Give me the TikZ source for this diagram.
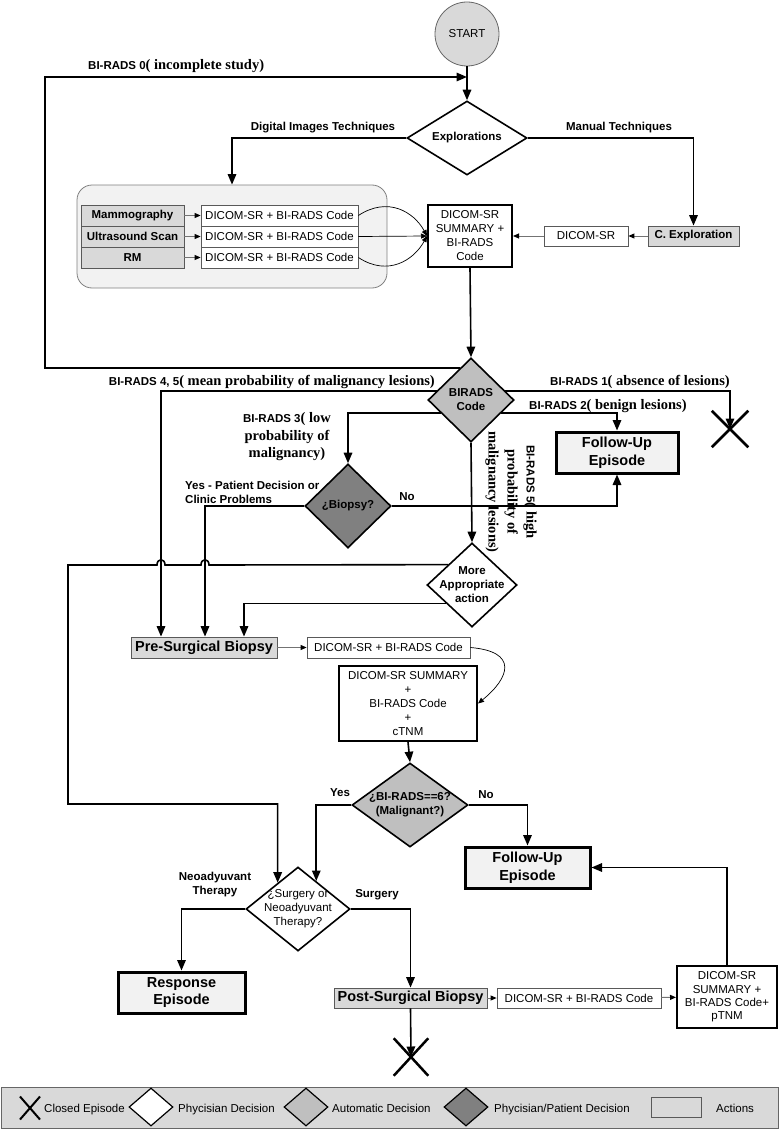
\documentclass[tikz,border=0pt]{standalone}
\usepackage{fontspec}
\setmainfont{Liberation Sans}
\newfontfamily\tms{Liberation Serif}
\newfontfamily\ars{Liberation Sans}
\usetikzlibrary{arrows.meta,shapes.geometric,shapes.misc,calc}
\definecolor{lgrey}{HTML}{D9D9D9}
\definecolor{mgrey}{HTML}{BFBFBF}
\definecolor{dgrey}{HTML}{808080}
\definecolor{vlgrey}{HTML}{F2F2F2}
\newcommand\fs{\fontsize{11.5}{14}\selectfont}
\newcommand\fbig{\fontsize{14.5}{17.5}\selectfont\bfseries}
\newcommand\tmfont{\tms\bfseries\fontsize{14.5}{17.5}\selectfont}
\newcommand\tmrot{\tms\bfseries\fontsize{14.5}{19}\selectfont}
\newcommand\sbf[1]{{\ars\bfseries\fontsize{11.5}{14}\selectfont #1}}
\begin{document}
\begin{tikzpicture}[x=1pt,y=-1pt,font=\fs,
  conn/.style={line width=1.6pt,-{Triangle[length=10.5pt,width=8.5pt]}},
  tarr/.style={line width=0.9pt,draw=black!55,-{Triangle[length=6pt,width=5pt,color=black]}},
  carr/.style={line width=0.7pt,-{Triangle[length=6pt,width=5pt]}},
  act/.style={rectangle,draw=black!65,line width=0.8pt,fill=lgrey,inner sep=0pt},
  wact/.style={act,fill=white},
  summ/.style={rectangle,draw,line width=2pt,fill=white,inner sep=0pt,align=center},
  epi/.style={rectangle,draw,line width=3pt,fill=vlgrey,inner sep=0pt,align=center,font=\fbig},
  dia/.style={diamond,draw,line width=1.6pt,inner sep=0pt,fill=white},
  lbl/.style={font=\fs\bfseries,align=center,inner sep=0pt},
  tx/.style={inner sep=0pt},
  xx/.style={cross out,draw,line width=2.5pt,inner sep=0pt},
]
\useasboundingbox (0,0) rectangle (779,1129);

% ---------- top ----------
\node[circle,draw=black!60,line width=0.8pt,fill=lgrey,minimum size=64pt,inner sep=0pt] (start) at (467,34) {START};
\node[dia,minimum width=120pt,minimum height=74pt] (expl) at (467,138) {};
\node[lbl] (explT) at (expl) {Explorations};

\node[rectangle,rounded corners=15pt,draw=black!50,line width=0.8pt,fill=vlgrey,minimum width=310pt,minimum height=103pt] (grp) at (232,236.5) {};
\node[act,minimum width=103pt,minimum height=21pt,font=\fs\bfseries] (mam) at (132.5,215.5) {Mammography};
\node[act,minimum width=103pt,minimum height=21pt,font=\fs\bfseries] (us) at (132.5,236.5) {Ultrasound Scan};
\node[act,minimum width=103pt,minimum height=21pt,font=\fs\bfseries] (rm) at (132.5,257.5) {RM};
\node[wact,minimum width=157pt,minimum height=21pt] (dA) at (279.5,215.5) {DICOM-SR + BI-RADS Code};
\node[wact,minimum width=157pt,minimum height=21pt] (dB) at (279.5,236.5) {DICOM-SR + BI-RADS Code};
\node[wact,minimum width=157pt,minimum height=21pt] (dC) at (279.5,257.5) {DICOM-SR + BI-RADS Code};
\node[summ,minimum width=84pt,minimum height=62pt] (sum1) at (470,236) {DICOM-SR\\SUMMARY +\\BI-RADS\\Code};
\node[wact,minimum width=84pt,minimum height=20pt] (dsr) at (586,236) {DICOM-SR};
\node[act,minimum width=91pt,minimum height=20pt,font=\fs\bfseries] (cexp) at (693.5,236) {C. Exploration};

\draw[conn] (start) -- (expl);
\draw[conn] (expl.west) -| (grp.north);
\draw[conn] (expl.east) -| (cexp.north);
\draw[tarr] (mam) -- (dA);
\draw[tarr] (us) -- (dB);
\draw[tarr] (rm) -- (dC);
\draw[carr] (dA.east) .. controls (388,196) and (414,212) .. (sum1.west);
\draw[carr] (dB.east) -- (sum1.west);
\draw[carr] (dC.east) .. controls (388,277) and (414,260) .. (sum1.west);
\draw[tarr] (cexp) -- (dsr);
\draw[tarr] (dsr) -- (sum1);

% ---------- BIRADS ----------
\node[dia,fill=mgrey,minimum width=86pt,minimum height=84pt] (birads) at (471,400) {};
\node[lbl] (biradsT) at (birads) {BIRADS\\Code};
\draw[conn] (sum1.south) -- (birads.north);

\coordinate (b0s) at ($(birads.north)!0.25!(birads.west)$);
\coordinate (y77) at (0,77);
\draw[conn] (b0s) -| (45,77) -- (start.south |- y77);
\node[tx,anchor=west] (l0) at (88,66) {\sbf{BI-RADS 0}{\tmfont( incomplete study)}};
\node[lbl] (ldig) at (323,128) {Digital Images Techniques};
\node[lbl] (lman) at (619,128) {Manual Techniques};

\node[epi,minimum width=122pt,minimum height=41pt] (fu1) at (617,452.5) {Follow-Up\\Episode};
\node[xx,minimum width=34pt,minimum height=34pt] (x1) at (730,429) {};
\node[dia,fill=dgrey,minimum width=86pt,minimum height=84pt] (biopsy) at (348,506) {};
\node[lbl] (biopsyT) at (biopsy) {¿Biopsy?};
\node[dia,minimum width=90pt,minimum height=84pt] (mapp) at (472,585) {};
\node[lbl] (mappT) at (mapp) {More\\Appropriate\\action};
\node[act,minimum width=146pt,minimum height=21pt,font=\fbig] (ps) at (204,647.5) {Pre-Surgical Biopsy};

\coordinate (b45s) at ($(birads.north)!0.786!(birads.west)$);
\coordinate (b1s) at ($(birads.north)!0.786!(birads.east)$);
\coordinate (b2s) at ($(birads.east)!0.31!(birads.south)$);
\coordinate (b3s) at ($(birads.west)!0.31!(birads.south)$);
\draw[conn] (b45s) -| ([xshift=-43pt]ps.north);
\draw[conn] (b1s) -| (x1.center);
\draw[conn] (b2s) -| (fu1.north);
\draw[conn] (b3s) -| (biopsy.north);
\draw[conn] (biopsy.west) -| ([xshift=1pt]ps.north);
\draw[conn] (biopsy.east) -| (fu1.south);
\draw[conn] (birads.south) -- (mapp.north);

\node[tx,anchor=east] (l45) at (435,382) {\sbf{BI-RADS 4, 5}{\tmfont( mean probability of malignancy lesions)}};
\node[tx,anchor=west] (l1) at (550,382) {\sbf{BI-RADS 1}{\tmfont( absence of lesions)}};
\node[tx,anchor=west] (l2) at (529,406) {\sbf{BI-RADS 2}{\tmfont( benign lesions)}};
\node[tx,align=center,font=\tmfont] (l3) at (287,437) {\sbf{BI-RADS 3}( low\\probability of\\malignancy)};
\node[tx,align=left,font=\fs\bfseries,anchor=west] (lyes1) at (185,492) {Yes - Patient Decision or\\Clinic Problems};
\node[lbl] (lno1) at (407,497) {No};
\node[tx,align=center,font=\tmrot,rotate=-90] (l5) at (511,492) {\sbf{BI-RADS 5}( high\\probability of\\malignancy lesions)};

% ---------- middle ----------
\node[wact,minimum width=163pt,minimum height=21pt] (d2) at (388.5,647.5) {DICOM-SR + BI-RADS Code};
\node[summ,minimum width=138pt,minimum height=75pt] (sum2) at (408,703.5) {DICOM-SR SUMMARY\\+\\BI-RADS Code\\+\\cTNM};
\node[dia,fill=mgrey,minimum width=116pt,minimum height=84pt] (mal) at (410,805) {};
\node[lbl] (malT) at (mal) {¿BI-RADS==6?\\(Malignant?)};
\node[epi,minimum width=125pt,minimum height=41pt] (fu2) at (527.5,867.5) {Follow-Up\\Episode};
\node[dia,minimum width=104pt,minimum height=84pt] (surg) at (298,909) {};
\node[tx,align=center] (surgT) at (surg) {¿Surgery or\\Neoadyuvant\\Therapy?};

\coordinate (ma1) at ($(mapp.north)!0.524!(mapp.west)$);
\coordinate (ma2) at ($(mapp.west)!0.43!(mapp.south)$);
\coordinate (sl) at ($(surg.north)!0.385!(surg.west)$);
\coordinate (sr) at ($(surg.north)!0.346!(surg.east)$);
\draw[conn] (ma1) -- (209,565) .. controls (209,558) and (201,558) .. (201,565) -- (165,565) .. controls (165,558) and (157,558) .. (157,565) -- (68,565) -- (68,804) -| (sl);
\draw[conn] (ma2) -| ([xshift=40pt]ps.north);
\draw[tarr] (ps) -- (d2);
\draw[carr] (d2.east) .. controls +(48,4) and +(32,-26) .. (sum2.east);
\draw[conn] (sum2.south) -- (mal.north);
\draw[conn] (mal.west) -| (sr);
\draw[conn] (mal.east) -| (fu2.north);
\node[lbl] (lyes2) at (340,793) {Yes};
\node[lbl] (lno2) at (486,795) {No};
\node[lbl] (lneo) at (215,885) {Neoadyuvant\\Therapy};
\node[lbl] (lsurg) at (377,895) {Surgery};

% ---------- bottom ----------
\node[epi,minimum width=127pt,minimum height=41pt] (resp) at (181.5,992.5) {Response\\Episode};
\node[act,minimum width=153pt,minimum height=20pt,font=\fbig] (post) at (410.5,998) {Post-Surgical Biopsy};
\node[wact,minimum width=164pt,minimum height=20pt] (d3) at (579,998) {DICOM-SR + BI-RADS Code};
\node[summ,minimum width=100pt,minimum height=62pt,font=\fontsize{11.5}{13.3}\selectfont] (sum3) at (727,997) {DICOM-SR\\SUMMARY +\\BI-RADS Code+\\pTNM};
\node[xx,minimum width=32pt,minimum height=35pt] (x2) at (411,1057) {};
\draw[conn] (surg.west) -| (resp.north);
\draw[conn] (surg.east) -| (post.north);
\draw[tarr] (post) -- (d3);
\draw[tarr] (d3) -- (sum3);
\draw[conn] (sum3.north) |- (fu2.east);
\draw[conn] (post.south) -- (x2.center);

% ---------- legend ----------
\node[rectangle,draw=black!60,line width=0.8pt,fill=lgrey,minimum width=777pt,minimum height=41pt,inner sep=0pt] (leg) at (389.5,1107.5) {};
\node[xx,line width=2pt,minimum width=18pt,minimum height=21pt] (lgx) at (30,1108) {};
\node[tx,anchor=base west] (lgxT) at (44,1112) {Closed Episode};
\node[diamond,draw,line width=1.2pt,fill=white,inner sep=0pt,minimum width=44pt,minimum height=38pt] (lgd1) at (151,1107) {};
\node[tx,anchor=base west] (lgd1T) at (178,1112) {Phycisian Decision};
\node[diamond,draw,line width=1.2pt,fill=mgrey,inner sep=0pt,minimum width=44pt,minimum height=38pt] (lgd2) at (306,1107) {};
\node[tx,anchor=base west] (lgd2T) at (332,1112) {Automatic Decision};
\node[diamond,draw,line width=1.2pt,fill=dgrey,inner sep=0pt,minimum width=44pt,minimum height=38pt] (lgd3) at (466,1107) {};
\node[tx,anchor=base west] (lgd3T) at (494,1112) {Phycisian/Patient Decision};
\node[act,minimum width=50pt,minimum height=20pt] (lgr) at (676,1107) {};
\node[tx,anchor=base west] (lgrT) at (716,1112) {Actions};
\end{tikzpicture}
\end{document}
